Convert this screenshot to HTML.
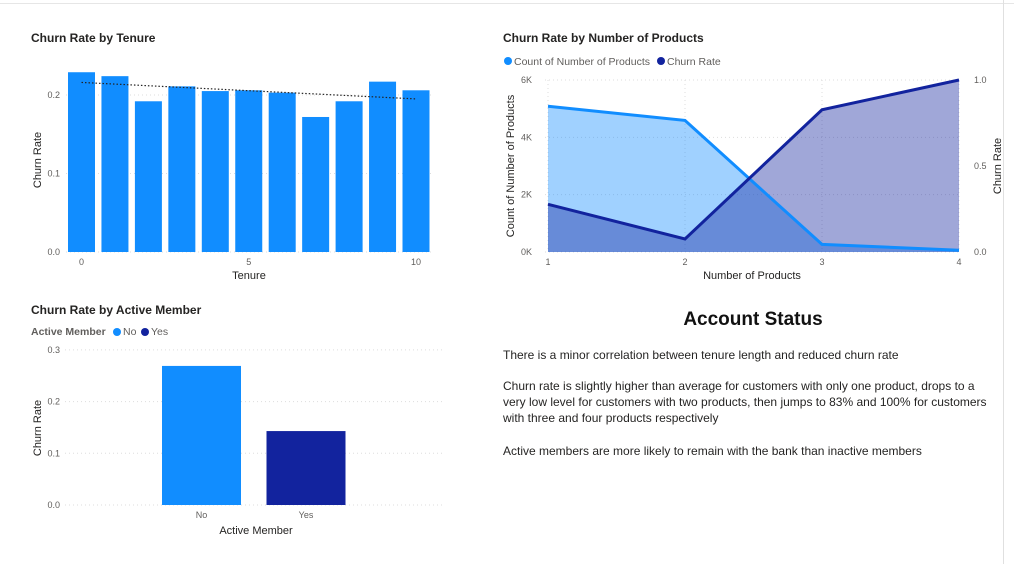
<!DOCTYPE html>
<html><head><meta charset="utf-8">
<style>
body{margin:0;width:1014px;height:564px;background:#fff;overflow:hidden;font-family:"Liberation Sans",sans-serif;position:relative}
.t{position:absolute;font-size:12px;color:#252423;font-weight:bold}
.txt{position:absolute;left:503px;width:485px;font-size:12px;color:#252423;line-height:16px}
</style></head><body>
<div style="position:absolute;left:0;top:0;width:1014px;height:3px;border-bottom:1px solid #e6e6e6"></div>
<div style="position:absolute;left:1003px;top:0;width:1px;height:564px;background:#e0e0e0"></div>
<div class="t" style="left:31px;top:31px">Churn Rate by Tenure</div>
<div class="t" style="left:503px;top:31px">Churn Rate by Number of Products</div>
<div class="t" style="left:31px;top:303px">Churn Rate by Active Member</div>
<div style="position:absolute;left:503px;width:500px;top:309px;text-align:center;font-size:19px;font-weight:bold;color:#111">Account Status</div>
<div class="txt" style="top:347px">There is a minor correlation between tenure length and reduced churn rate</div>
<div class="txt" style="top:378px">Churn rate is slightly higher than average for customers with only one product, drops to a very low level for customers with two products, then jumps to 83% and 100% for customers with three and four products respectively</div>
<div class="txt" style="top:443px">Active members are more likely to remain with the bank than inactive members</div>
<svg id="s" width="1014" height="564" style="position:absolute;left:0;top:0" font-family="Liberation Sans, sans-serif"></svg>
<script>
const tenureCats=[0,1,2,3,4,5,6,7,8,9,10];
const tenureVals=[0.229,0.224,0.192,0.211,0.205,0.206,0.203,0.172,0.192,0.217,0.206];
const tenureTicks=[0,0.1,0.2];
const trendVals=[0.216,0.195];
const prodCats=[1,2,3,4];
const prodCounts=[5084,4590,266,60];
const prodChurn=[0.277,0.076,0.827,1.0];
const countTicks=[0,2000,4000,6000];
const countTickLabels=["0K","2K","4K","6K"];
const churnTicks=[0,0.5,1.0];
const activeCats=["No","Yes"];
const activeVals=[0.269,0.143];
const activeTicks=[0,0.1,0.2,0.3];

const S=document.getElementById('s');const NS='http://www.w3.org/2000/svg';
function mk(tag,a,txt){const e=document.createElementNS(NS,tag);for(const k in a)e.setAttribute(k,a[k]);if(txt!==undefined)e.textContent=txt;S.appendChild(e);return e;}
const gray='#605e5c';

// Tenure chart
const ty=v=>252-v*785, tx=i=>81.5+i*33.45;
tenureTicks.forEach(v=>{const g=mk('line',{x1:66,x2:432,y1:ty(v),y2:ty(v),stroke:'#ddd','stroke-dasharray':'1,3'});
const l=mk('text',{x:60,y:ty(v)+3,'font-size':9,fill:gray,'text-anchor':'end'},v.toFixed(1));});
tenureCats.forEach((c,i)=>{const r=mk('rect',{x:tx(i)-13.5,y:ty(tenureVals[i]),width:27,height:tenureVals[i]*785,fill:'#118dff'});});
[0,5,10].forEach(c=>{const l=mk('text',{x:tx(c),y:265,'font-size':9,fill:gray,'text-anchor':'middle'},c);});
{const tl=mk('line',{x1:tx(0),y1:ty(trendVals[0]),x2:tx(10),y2:ty(trendVals[1]),stroke:'#222','stroke-width':1.2,'stroke-dasharray':'1.5,2'});}
{const a=mk('text',{x:249,y:279,'font-size':11,fill:'#252423','text-anchor':'middle'},'Tenure');
const b=mk('text',{x:0,y:0,'font-size':11,fill:'#252423','text-anchor':'middle',transform:'translate(41,160) rotate(-90)'},'Churn Rate');}

// Products chart
const px=c=>548+(c-1)*137, cy=v=>252-v/6000*172, ry=v=>252-v*172;
countTicks.forEach((v,i)=>{const g=mk('line',{x1:545,x2:960,y1:cy(v),y2:cy(v),stroke:'#ddd','stroke-dasharray':'1,3'});
const l=mk('text',{x:532,y:cy(v)+3,'font-size':9,fill:gray,'text-anchor':'end'},countTickLabels[i]);});
prodCats.forEach(c=>{const g=mk('line',{x1:px(c),x2:px(c),y1:80,y2:252,stroke:'#ddd','stroke-dasharray':'1,3'});
const l=mk('text',{x:px(c),y:265,'font-size':9,fill:gray,'text-anchor':'middle'},c);});
churnTicks.forEach(v=>{const l=mk('text',{x:974,y:ry(v)+3,'font-size':9,fill:gray},v.toFixed(1));});
const cpts=prodCats.map((c,i)=>px(c)+','+cy(prodCounts[i])).join(' ');
const rpts=prodCats.map((c,i)=>px(c)+','+ry(prodChurn[i])).join(' ');
{let a=mk('polygon',{points:px(1)+',252 '+cpts+' '+px(4)+',252',fill:'#118dff','fill-opacity':0.4});
a=mk('polygon',{points:px(1)+',252 '+rpts+' '+px(4)+',252',fill:'#12239e','fill-opacity':0.4});
a=mk('polyline',{points:cpts,fill:'none',stroke:'#118dff','stroke-width':3});
a=mk('polyline',{points:rpts,fill:'none',stroke:'#12239e','stroke-width':3});}
{let a=mk('text',{x:752,y:279,'font-size':11,fill:'#252423','text-anchor':'middle'},'Number of Products');
a=mk('text',{x:0,y:0,'font-size':11,fill:'#252423','text-anchor':'middle',transform:'translate(514,166) rotate(-90)'},'Count of Number of Products');
a=mk('text',{x:0,y:0,'font-size':11,fill:'#252423','text-anchor':'middle',transform:'translate(1001,166) rotate(-90)'},'Churn Rate');
a=mk('circle',{cx:508,cy:61,r:4,fill:'#118dff'});
a=mk('text',{x:514,y:65,'font-size':10.5,fill:gray},'Count of Number of Products');
a=mk('circle',{cx:661,cy:61,r:4,fill:'#12239e'});
a=mk('text',{x:667,y:65,'font-size':10.5,fill:gray},'Churn Rate');}

// Active member chart
const ay=v=>505-v*517, ax=i=>201.5+i*104.5;
activeTicks.forEach(v=>{const g=mk('line',{x1:65,x2:442,y1:ay(v),y2:ay(v),stroke:'#ddd','stroke-dasharray':'1,3'});
const l=mk('text',{x:60,y:ay(v)+3,'font-size':9,fill:gray,'text-anchor':'end'},v.toFixed(1));});
const acol=['#118dff','#12239e'];
activeCats.forEach((c,i)=>{const r=mk('rect',{x:ax(i)-39.5,y:ay(activeVals[i]),width:79,height:activeVals[i]*517,fill:acol[i]});
const l=mk('text',{x:ax(i),y:518,'font-size':9,fill:gray,'text-anchor':'middle'},c);});
{let a=mk('text',{x:256,y:534,'font-size':11,fill:'#252423','text-anchor':'middle'},'Active Member');
a=mk('text',{x:0,y:0,'font-size':11,fill:'#252423','text-anchor':'middle',transform:'translate(41,428) rotate(-90)'},'Churn Rate');
a=mk('text',{x:31,y:335,'font-size':10.5,fill:gray,'font-weight':'bold'},'Active Member');
a=mk('circle',{cx:117,cy:332,r:4,fill:'#118dff'});
a=mk('text',{x:123,y:335,'font-size':10.5,fill:gray},'No');
a=mk('circle',{cx:145,cy:332,r:4,fill:'#12239e'});
a=mk('text',{x:151,y:335,'font-size':10.5,fill:gray},'Yes');}
</script>
</body></html>
